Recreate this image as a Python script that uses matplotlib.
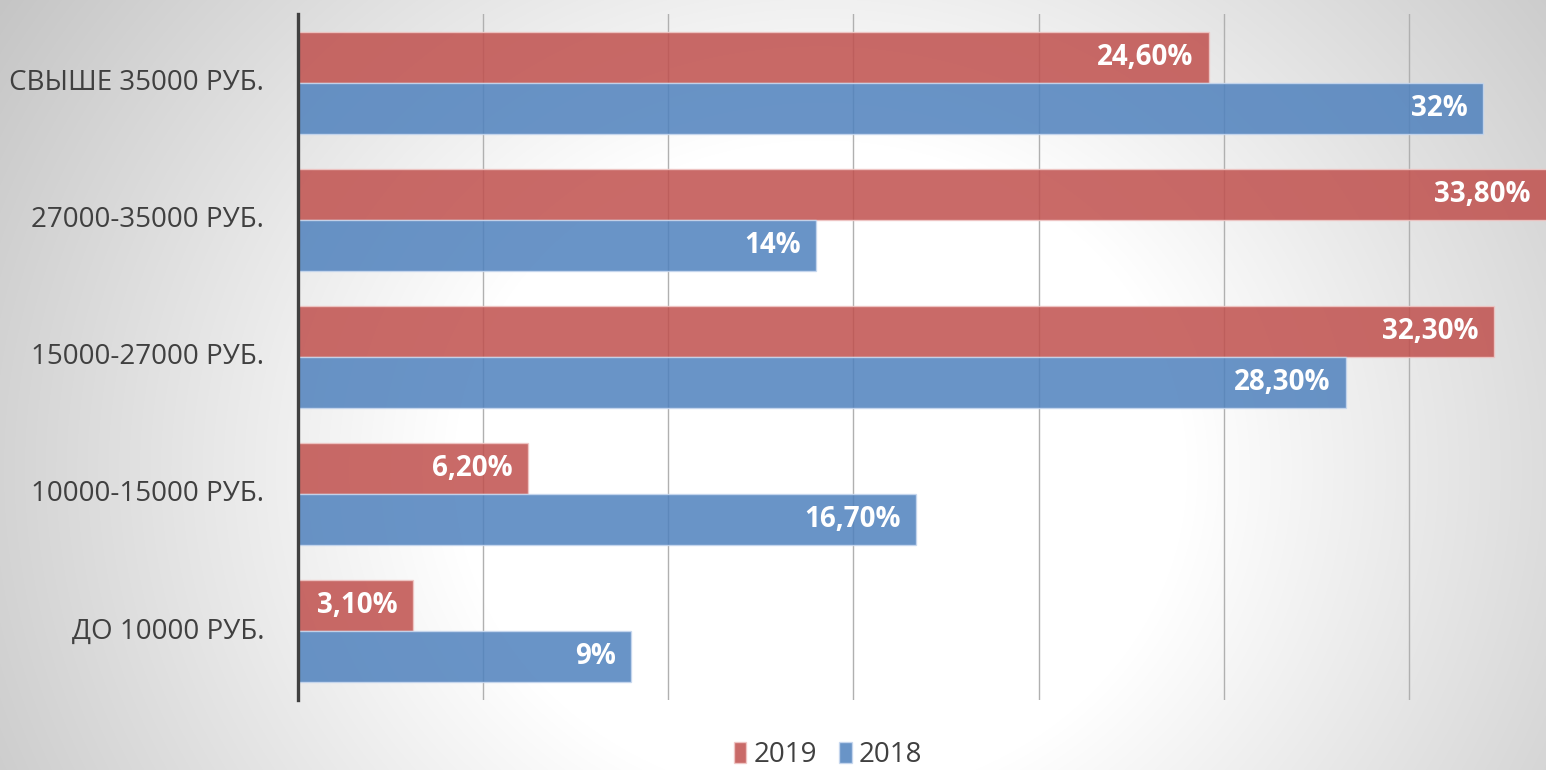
import numpy as np
import matplotlib.pyplot as plt

# data
categories = ['СВЫШЕ 35000 РУБ.', '27000-35000 РУБ.', '15000-27000 РУБ.',
              '10000-15000 РУБ.', 'ДО 10000 РУБ.']
values_2019 = [24.6, 33.8, 32.3, 6.2, 3.1]
values_2018 = [32.0, 14.0, 28.3, 16.7, 9.0]
labels_2019 = ['24,60%', '33,80%', '32,30%', '6,20%', '3,10%']
labels_2018 = ['32%', '14%', '28,30%', '16,70%', '9%']

plt.rcParams['font.family'] = ['Open Sans', 'DejaVu Sans']

W, H = 1546, 770
fig = plt.figure(figsize=(W / 100, H / 100), dpi=100)

# radial grey background
bg = fig.add_axes([0, 0, 1, 1], zorder=-5)
yy, xx = np.mgrid[0:H, 0:W]
d = np.sqrt(((xx - 820) * 0.9) ** 2 + (yy - 470) ** 2)
shade = 1 - 0.25 * np.clip((d - 330) / 600, 0, 1)
bg.imshow(np.dstack([shade] * 3), aspect='auto', extent=[0, 1, 0, 1])
bg.axis('off')

left, right = 298 / W, 1.0
bottom, top = 1 - 700 / H, 1 - 14 / H
ax = fig.add_axes([left, bottom, right - left, top - bottom])
ax.set_facecolor('none')

red = '#c0504d'
blue = '#4f81bd'
h = 51 / 137.25
y = np.arange(len(categories))

ax.barh(y - h / 2, values_2019, height=h, color=red, alpha=0.85,
        edgecolor='#f0c8c6', linewidth=1, label='2019', zorder=3)
ax.barh(y + h / 2, values_2018, height=h, color=blue, alpha=0.85,
        edgecolor='#c8d8ef', linewidth=1, label='2018', zorder=3)

xmax = 1248 / 37.03
ax.set_xlim(0, xmax)
ax.set_ylim(len(categories) - 0.5, -0.5)
ax.set_xticks(np.arange(5, xmax, 5))
ax.set_xticklabels([])
ax.tick_params(length=0)
ax.set_yticks([])
ax.grid(axis='x', color='#b0b0b0', linewidth=1, zorder=0)

for s in ['top', 'right', 'bottom']:
    ax.spines[s].set_visible(False)
ax.spines['left'].set_color('#404040')
ax.spines['left'].set_linewidth(2.4)
ax.spines['left'].set_zorder(5)

# category labels left of the axis
for i, c in enumerate(categories):
    ax.text(-34 / 1248, i, c, transform=ax.get_yaxis_transform(),
            ha='right', va='center', fontsize=20, color='#404040')

# value labels inside bar ends
for i in range(len(categories)):
    for v, lab, off in [(values_2019[i], labels_2019[i], -h / 2),
                        (values_2018[i], labels_2018[i], h / 2)]:
        ax.annotate(lab, (min(v, xmax), i + off), xytext=(-11, 0),
                    textcoords='offset points', ha='right', va='center',
                    fontsize=20, fontweight='bold', color='white', zorder=6)

leg = fig.legend(loc='center', bbox_to_anchor=(828 / W, 1 - 755 / H), ncol=2,
                 frameon=False, fontsize=20, handlelength=0.45,
                 handleheight=0.8, handletextpad=0.25, columnspacing=0.8)
for t in leg.get_texts():
    t.set_color('#404040')

fig.savefig('out.png', dpi=100)
